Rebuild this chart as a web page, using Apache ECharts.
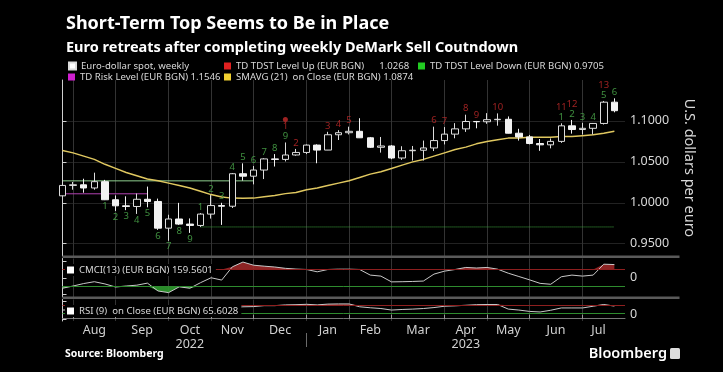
<!DOCTYPE html>
<html><head><meta charset="utf-8">
<script src="https://cdn.jsdelivr.net/npm/echarts@6/dist/echarts.min.js"></script>
<style>html,body{margin:0;padding:0;background:#000;}#c{width:723px;height:372px;}</style>
</head><body><div id="c"></div>
<script>
// ---- data (weekly EUR/USD, week ending) ----
const weeks = ['2022-07-22','2022-07-29','2022-08-05','2022-08-12','2022-08-19','2022-08-26','2022-09-02','2022-09-09','2022-09-16','2022-09-23','2022-09-30','2022-10-07','2022-10-14','2022-10-21','2022-10-28','2022-11-04','2022-11-11','2022-11-18','2022-11-25','2022-12-02','2022-12-09','2022-12-16','2022-12-23','2022-12-30','2023-01-06','2023-01-13','2023-01-20','2023-01-27','2023-02-03','2023-02-10','2023-02-17','2023-02-24','2023-03-03','2023-03-10','2023-03-17','2023-03-24','2023-03-31','2023-04-07','2023-04-14','2023-04-21','2023-04-28','2023-05-05','2023-05-12','2023-05-19','2023-05-26','2023-06-02','2023-06-09','2023-06-16','2023-06-23','2023-06-30','2023-07-07','2023-07-14','2023-07-21'];
const openV  = [1.0085,1.0212,1.0220,1.0181,1.0258,1.0037,0.9963,0.9955,1.0043,1.0016,0.9690,0.9802,0.9740,0.9723,0.9862,0.9966,0.9958,1.0355,1.0325,1.0400,1.0536,1.0530,1.0584,1.0615,1.0705,1.0644,1.0831,1.0856,1.0873,1.0794,1.0678,1.0694,1.0547,1.0636,1.0642,1.0670,1.0760,1.0839,1.0903,1.0993,1.0990,1.1015,1.1020,1.0850,1.0805,1.0724,1.0708,1.0750,1.0940,1.0895,1.0910,1.0969,1.1229];
const closeV = [1.0212,1.0220,1.0181,1.0258,1.0037,0.9963,0.9955,1.0043,1.0016,0.9690,0.9802,0.9740,0.9723,0.9862,0.9966,0.9958,1.0355,1.0325,1.0400,1.0536,1.0530,1.0584,1.0615,1.0705,1.0644,1.0831,1.0856,1.0873,1.0794,1.0678,1.0694,1.0547,1.0636,1.0642,1.0670,1.0760,1.0839,1.0903,1.0993,1.0990,1.1015,1.1020,1.0850,1.0805,1.0724,1.0708,1.0750,1.0940,1.0895,1.0910,1.0969,1.1229,1.1125];
const lowV   = [1.0079,1.0160,1.0123,1.0160,1.0033,0.9901,0.9910,0.9864,0.9945,0.9669,0.9536,0.9730,0.9632,0.9705,0.9807,0.9730,0.9936,1.0271,1.0225,1.0290,1.0443,1.0505,1.0575,1.0595,1.0483,1.0643,1.0767,1.0835,1.0791,1.0669,1.0613,1.0533,1.0524,1.0516,1.0516,1.0632,1.0713,1.0788,1.0866,1.0910,1.0965,1.0942,1.0847,1.0760,1.0714,1.0635,1.0665,1.0732,1.0845,1.0834,1.0834,1.0956,1.1105];
const highV  = [1.0278,1.0254,1.0294,1.0368,1.0280,1.0090,1.0079,1.0113,1.0198,1.0051,0.9854,0.9999,0.9809,0.9874,1.0094,1.0000,1.0364,1.0482,1.0449,1.0545,1.0595,1.0737,1.0658,1.0713,1.0714,1.0867,1.0887,1.0930,1.1033,1.0804,1.0804,1.0705,1.0691,1.0694,1.0760,1.0930,1.0925,1.0973,1.1076,1.1000,1.1095,1.1092,1.1055,1.0904,1.0829,1.0779,1.0786,1.0971,1.1012,1.0976,1.0975,1.1244,1.1276];
const sma21  = [1.064,1.061,1.057,1.053,1.047,1.042,1.037,1.033,1.029,1.027,1.024,1.021,1.018,1.014,1.010,1.007,1.0057,1.0055,1.0057,1.0075,1.009,1.0112,1.0125,1.016,1.018,1.021,1.024,1.027,1.031,1.035,1.038,1.042,1.046,1.050,1.053,1.057,1.061,1.065,1.068,1.072,1.075,1.077,1.079,1.079,1.080,1.080,1.080,1.081,1.081,1.082,1.083,1.085,1.0874];
const cmci   = [-127,-100,-70,-48,-75,-112,-100,-90,-65,-160,-180,-110,-127,-60,0,-28,132,190,152,140,130,114,105,100,72,100,104,104,100,32,20,-50,-48,-45,-40,44,80,100,125,118,125,104,55,15,-25,-68,-79,12,32,20,32,164,159.56];
const rsi    = [45,47,45,50,40,36,35,40,38,28,33,31,30,38,45,45,58,62,63,68,68,72,73,75,72,76,77,77,62,57,53,45,48,50,53,58,65,67,70,73,74,74,50,45,38,35,44,56,56,56,65,74,65.6];
// TD levels
const tdstUpLevel = 1.0268, tdstUpSpan = [0, 18];
const tdstDownLevel = 0.9705, tdstDownSpan = [13, 52];
const riskLevel = 1.011, riskSpan = [0, 8];
// TD counts
const buySetupIdx = [4,5,6,7,8,9,10,11,12];
const buySetupNum = [1,2,3,4,5,6,7,8,9];
const sellSetupIdx = [13,14,15,16,17,18,19,20,21,47,48,49,50,51,52];
const sellSetupNum = [1,2,3,4,5,6,7,8,9,1,2,3,4,5,6];
const countdownIdx = [21,22,25,26,27,35,36,38,39,41,47,48,51];
const countdownNum = [1,2,3,4,5,6,7,8,9,10,11,12,13];
// axis
const monthTickIdx = [1,5,10,14,18,23,27,31,36,40,44,49];
const yearBreakIdx = [23];
const monthLabelPos = [3,7.5,12,16,20.5,25,29,33.5,38,42,46.5,50.5];
const monthNames = ['Aug','Sep','Oct','Nov','Dec','Jan','Feb','Mar','Apr','May','Jun','Jul'];
const yearLabels = {Oct:'2022', Apr:'2023'};
const priceTicks = [0.95,1.0,1.05,1.1];

const N = weeks.length;
const XMAX = 53;
const FONT = 'Noto Sans';
const GREEN = '#4fb34f', RED = '#c62a2a';

const candleData = weeks.map((d,i)=>[i, openV[i], closeV[i], lowV[i], highV[i]]);
const xy = arr => arr.map((v,i)=>[i, v]);
const sellSet = new Set(sellSetupIdx);
const slots = Array.from({length: XMAX + 1}, (_, i) => String(i));

const L_SPOT = 'Euro-dollar spot, weekly';
const L_UP = 'TD TDST Level Up (EUR BGN)      1.0268';
const L_DOWN = 'TD TDST Level Down (EUR BGN) 0.9705';
const L_RISK = 'TD Risk Level (EUR BGN) 1.1546';
const L_SMA = 'SMAVG (21)  on Close (EUR BGN) 1.0874';
const L_CMCI = 'CMCI(13) (EUR BGN) 159.5601';
const L_RSI = 'RSI (9)  on Close (EUR BGN) 65.6028';

const xBase = (gi) => ({
  type:'value', gridIndex:gi, min:0, max:XMAX,
  axisLine:{show:false}, axisLabel:{show:false},
  axisTick:{show:false, customValues: monthTickIdx},
  splitLine:{show:true, lineStyle:{color:'#333', width:1}}
});
const xCat = (gi) => ({
  type:'category', gridIndex:gi, data:slots, boundaryGap:false, position:'top', show:false
});

const legendCommon = {
  selectedMode:false, icon:'rect', itemWidth:7, itemHeight:7, itemGap:6, z:20,
  textStyle:{color:'#d8d8d8', fontSize:9.6, fontFamily:FONT}, padding:0
};

const GL = 62.5, GR = 98;

const option = {
  backgroundColor:'#000',
  animation:false,
  title:[
    {text:'Short-Term Top Seems to Be in Place', left:61, top:10,
     textStyle:{color:'#fff', fontSize:18, fontWeight:'bold', fontFamily:FONT}},
    {text:'Euro retreats after completing weekly DeMark Sell Coutndown', left:61, top:35,
     textStyle:{color:'#fff', fontSize:14.5, fontWeight:'bold', fontFamily:FONT}}
  ],
  legend:[
    Object.assign({}, legendCommon, {left:68, top:61, data:[{name:L_SPOT, itemStyle:{color:'#fff'}}]}),
    Object.assign({}, legendCommon, {left:224, top:61, data:[{name:L_UP, itemStyle:{color:'#e02020'}}]}),
    Object.assign({}, legendCommon, {left:418, top:61, data:[{name:L_DOWN, itemStyle:{color:'#22cc22'}}]}),
    Object.assign({}, legendCommon, {left:68, top:72, data:[{name:L_RISK, itemStyle:{color:'#d020d0'}}]}),
    Object.assign({}, legendCommon, {left:224, top:72, data:[{name:L_SMA, itemStyle:{color:'#f0d030'}}]}),
    Object.assign({}, legendCommon, {left:65, top:264, backgroundColor:'#000', padding:[1,3,1,2], data:[{name:L_CMCI, itemStyle:{color:'#fff'}}]}),
    Object.assign({}, legendCommon, {left:65, top:305, backgroundColor:'#000', padding:[1,3,1,2], data:[{name:L_RSI, itemStyle:{color:'#fff'}}]})
  ],
  grid:[
    {left:GL, right:GR, top:80, height:176},
    {left:GL, right:GR, top:258.5, height:38.5},
    {left:GL, right:GR, top:299.5, height:21.5},
    {left:GL, right:GR, top:333, height:14}
  ],
  xAxis:[
    xBase(0), xBase(1),
    Object.assign(xBase(2), {
      position:'bottom',
      axisLine:{show:true, lineStyle:{color:'#777'}},
      axisTick:{show:true, inside:true, length:4, customValues: monthTickIdx, lineStyle:{color:'#999'}},
      axisLabel:{show:true, customValues: monthLabelPos, margin:2, color:'#d0d0d0', fontSize:12.5, fontFamily:FONT, lineHeight:14,
        formatter:(v)=>{ const k = monthLabelPos.indexOf(v); const m = monthNames[k]; return yearLabels[m] ? m + '\n' + yearLabels[m] : m; }}
    }),
    {type:'value', gridIndex:3, min:0, max:XMAX, axisLine:{show:false}, axisLabel:{show:false},
     axisTick:{show:false, customValues: yearBreakIdx}, splitLine:{show:true, lineStyle:{color:'#6a6a6a', width:1}}},
    xCat(1), xCat(2)
  ],
  yAxis:[
    {type:'value', gridIndex:0, position:'right', min:0.935, max:1.15, scale:true,
     axisLine:{show:true, lineStyle:{color:'#cfcfcf'}},
     axisTick:{show:true, length:4, customValues:priceTicks, lineStyle:{color:'#cfcfcf'}},
     axisLabel:{customValues:priceTicks, color:'#d8d8d8', fontSize:12.5, fontFamily:FONT, margin:5, formatter:v=>v.toFixed(4)},
     splitLine:{show:true, lineStyle:{color:'#444', type:'dotted'}},
     name:'U.S. dollars per euro', nameLocation:'middle', nameRotate:-90, nameGap:57,
     nameTextStyle:{color:'#d8d8d8', fontSize:14.5, fontFamily:FONT}},
    {type:'value', gridIndex:1, position:'right', min:-233, max:233,
     axisLine:{show:true, lineStyle:{color:'#cfcfcf'}},
     axisTick:{show:true, length:4, customValues:[-200,0,200], lineStyle:{color:'#cfcfcf'}},
     axisLabel:{customValues:[0], color:'#d8d8d8', fontSize:12.5, fontFamily:FONT, margin:5},
     splitLine:{show:false}},
    {type:'value', gridIndex:2, position:'right', min:-12, max:100,
     axisLine:{show:true, lineStyle:{color:'#cfcfcf'}},
     axisTick:{show:true, length:4, customValues:[-5,92], lineStyle:{color:'#cfcfcf'}},
     axisLabel:{customValues:[0], color:'#d8d8d8', fontSize:12.5, fontFamily:FONT, margin:5, verticalAlign:'bottom', lineHeight:8},
     splitLine:{show:false}},
    {type:'value', gridIndex:3, show:false, min:0, max:1}
  ],
  series:[
    {type:'line', name:L_UP, xAxisIndex:0, yAxisIndex:0, symbol:'none',
     data: tdstUpSpan.map(i=>[i, tdstUpLevel]), lineStyle:{color:'#8fcf8f', width:1}},
    {type:'line', name:L_DOWN, xAxisIndex:0, yAxisIndex:0, symbol:'none',
     data: tdstDownSpan.map(i=>[i, tdstDownLevel]), lineStyle:{color:'#3fa83f', width:1, type:'dotted'}},
    {type:'line', name:L_RISK, xAxisIndex:0, yAxisIndex:0, symbol:'none',
     data: riskSpan.map(i=>[i, riskLevel]), lineStyle:{color:'#b040b0', width:1}},
    {type:'line', name:L_SMA, xAxisIndex:0, yAxisIndex:0, symbol:'none', z:3,
     data: xy(sma21), lineStyle:{color:'#e0c860', width:1.5}},
    {type:'candlestick', name:L_SPOT, xAxisIndex:0, yAxisIndex:0, z:4,
     data: candleData, encode:{x:0, y:[1,2,3,4]}, barWidth:7,
     itemStyle:{color:'#000', color0:'#f2f2f2', borderColor:'#dcdcdc', borderColor0:'#f2f2f2', borderWidth:1}},
    // TD counts
    {type:'scatter', name:'buySetup', xAxisIndex:0, yAxisIndex:0, symbolSize:0, z:5, silent:true,
     data: buySetupIdx.map((i,k)=>[i, lowV[i], buySetupNum[k]]), encode:{x:0,y:1},
     label:{show:true, position:'bottom', distance:1, color:GREEN, fontSize:9.5, fontFamily:FONT, formatter:p=>String(p.value[2])}},
    {type:'scatter', name:'sellSetup', xAxisIndex:0, yAxisIndex:0, symbolSize:0, z:5, silent:true,
     data: sellSetupIdx.map((i,k)=>[i, highV[i], sellSetupNum[k]]), encode:{x:0,y:1},
     label:{show:true, position:'top', distance:1, color:GREEN, fontSize:9.5, fontFamily:FONT, formatter:p=>String(p.value[2])}},
    {type:'scatter', name:'countdown', xAxisIndex:0, yAxisIndex:0, symbolSize:0, z:5, silent:true,
     data: countdownIdx.map((i,k)=>({value:[i, highV[i], countdownNum[k]], label:{distance: sellSet.has(i) ? 11 : 1}})), encode:{x:0,y:1},
     label:{show:true, position:'top', color:RED, fontSize:9.5, fontFamily:FONT, formatter:p=>String(p.value[2])}},
    {type:'scatter', name:'countdownMark', xAxisIndex:0, yAxisIndex:0, symbol:'circle', symbolSize:5, z:5, silent:true,
     data:[[countdownIdx[0], highV[countdownIdx[0]]]], symbolOffset:[0,-23], itemStyle:{color:RED}},
    // CMCI panel (category helper axis index 4)
    {type:'line', name:'cmciBaseUp', xAxisIndex:4, yAxisIndex:1, symbol:'none', stack:'cu', stackStrategy:'all',
     data: cmci.map(()=>100), lineStyle:{opacity:0}},
    {type:'line', name:'cmciFillUp', xAxisIndex:4, yAxisIndex:1, symbol:'none', stack:'cu', stackStrategy:'all',
     data: cmci.map(v=>Math.max(0, v-100)), lineStyle:{opacity:0}, areaStyle:{color:'#a52a2a', opacity:0.85}},
    {type:'line', name:'cmciBaseDn', xAxisIndex:4, yAxisIndex:1, symbol:'none', stack:'cd', stackStrategy:'all',
     data: cmci.map(()=>-100), lineStyle:{opacity:0}},
    {type:'line', name:'cmciFillDn', xAxisIndex:4, yAxisIndex:1, symbol:'none', stack:'cd', stackStrategy:'all',
     data: cmci.map(v=>Math.min(0, v+100)), lineStyle:{opacity:0}, areaStyle:{color:'#2f9a2f', opacity:0.9}},
    {type:'line', name:L_CMCI, xAxisIndex:4, yAxisIndex:1, symbol:'none', z:3,
     data: cmci, lineStyle:{color:'#c8c8c8', width:1}, itemStyle:{color:'#fff'},
     markLine:{silent:true, symbol:'none', label:{show:false},
       data:[{yAxis:100, lineStyle:{color:'#8e1f1f', width:1, type:'solid'}}, {yAxis:-100, lineStyle:{color:'#2e8b2e', width:1, type:'solid'}}]}},
    // RSI panel (category helper axis index 5)
    {type:'line', name:'rsiBase', xAxisIndex:5, yAxisIndex:2, symbol:'none', stack:'ru', stackStrategy:'all',
     data: rsi.map(()=>70), lineStyle:{opacity:0}},
    {type:'line', name:'rsiFill', xAxisIndex:5, yAxisIndex:2, symbol:'none', stack:'ru', stackStrategy:'all',
     data: rsi.map(v=>Math.max(0, v-70)), lineStyle:{opacity:0}, areaStyle:{color:'#a52a2a', opacity:0.7}},
    {type:'line', name:L_RSI, xAxisIndex:5, yAxisIndex:2, symbol:'none', z:3,
     data: rsi, lineStyle:{color:'#c8c8c8', width:1}, itemStyle:{color:'#fff'},
     markLine:{silent:true, symbol:'none', label:{show:false},
       data:[{yAxis:70, lineStyle:{color:'#8e1f1f', width:1, type:'solid'}}, {yAxis:30, lineStyle:{color:'#2e8b2e', width:1, type:'solid'}}]}}
  ],
  graphic:[
    {type:'rect', left:62.5, top:255.5, shape:{width:617, height:2.5}, style:{fill:'#5a5a5a'}, z:10},
    {type:'rect', left:62.5, top:296.5, shape:{width:617, height:2.5}, style:{fill:'#5a5a5a'}, z:10},
    {type:'text', left:65, top:349, style:{text:'Source: Bloomberg', fill:'#fff', font:'bold 10.5px "Noto Sans"'}},
    {type:'text', x:667, y:354, style:{text:'Bloomberg', fill:'#fff', align:'right', verticalAlign:'middle', font:'600 14.5px "Noto Sans"'}},
    {type:'rect', left:670, top:348, shape:{width:10, height:11, r:1.5}, style:{fill:'#ddd'}}
  ]
};

const chart = echarts.init(document.getElementById('c'), null, {renderer:'canvas'});
chart.setOption(option);
</script>
</body></html>
